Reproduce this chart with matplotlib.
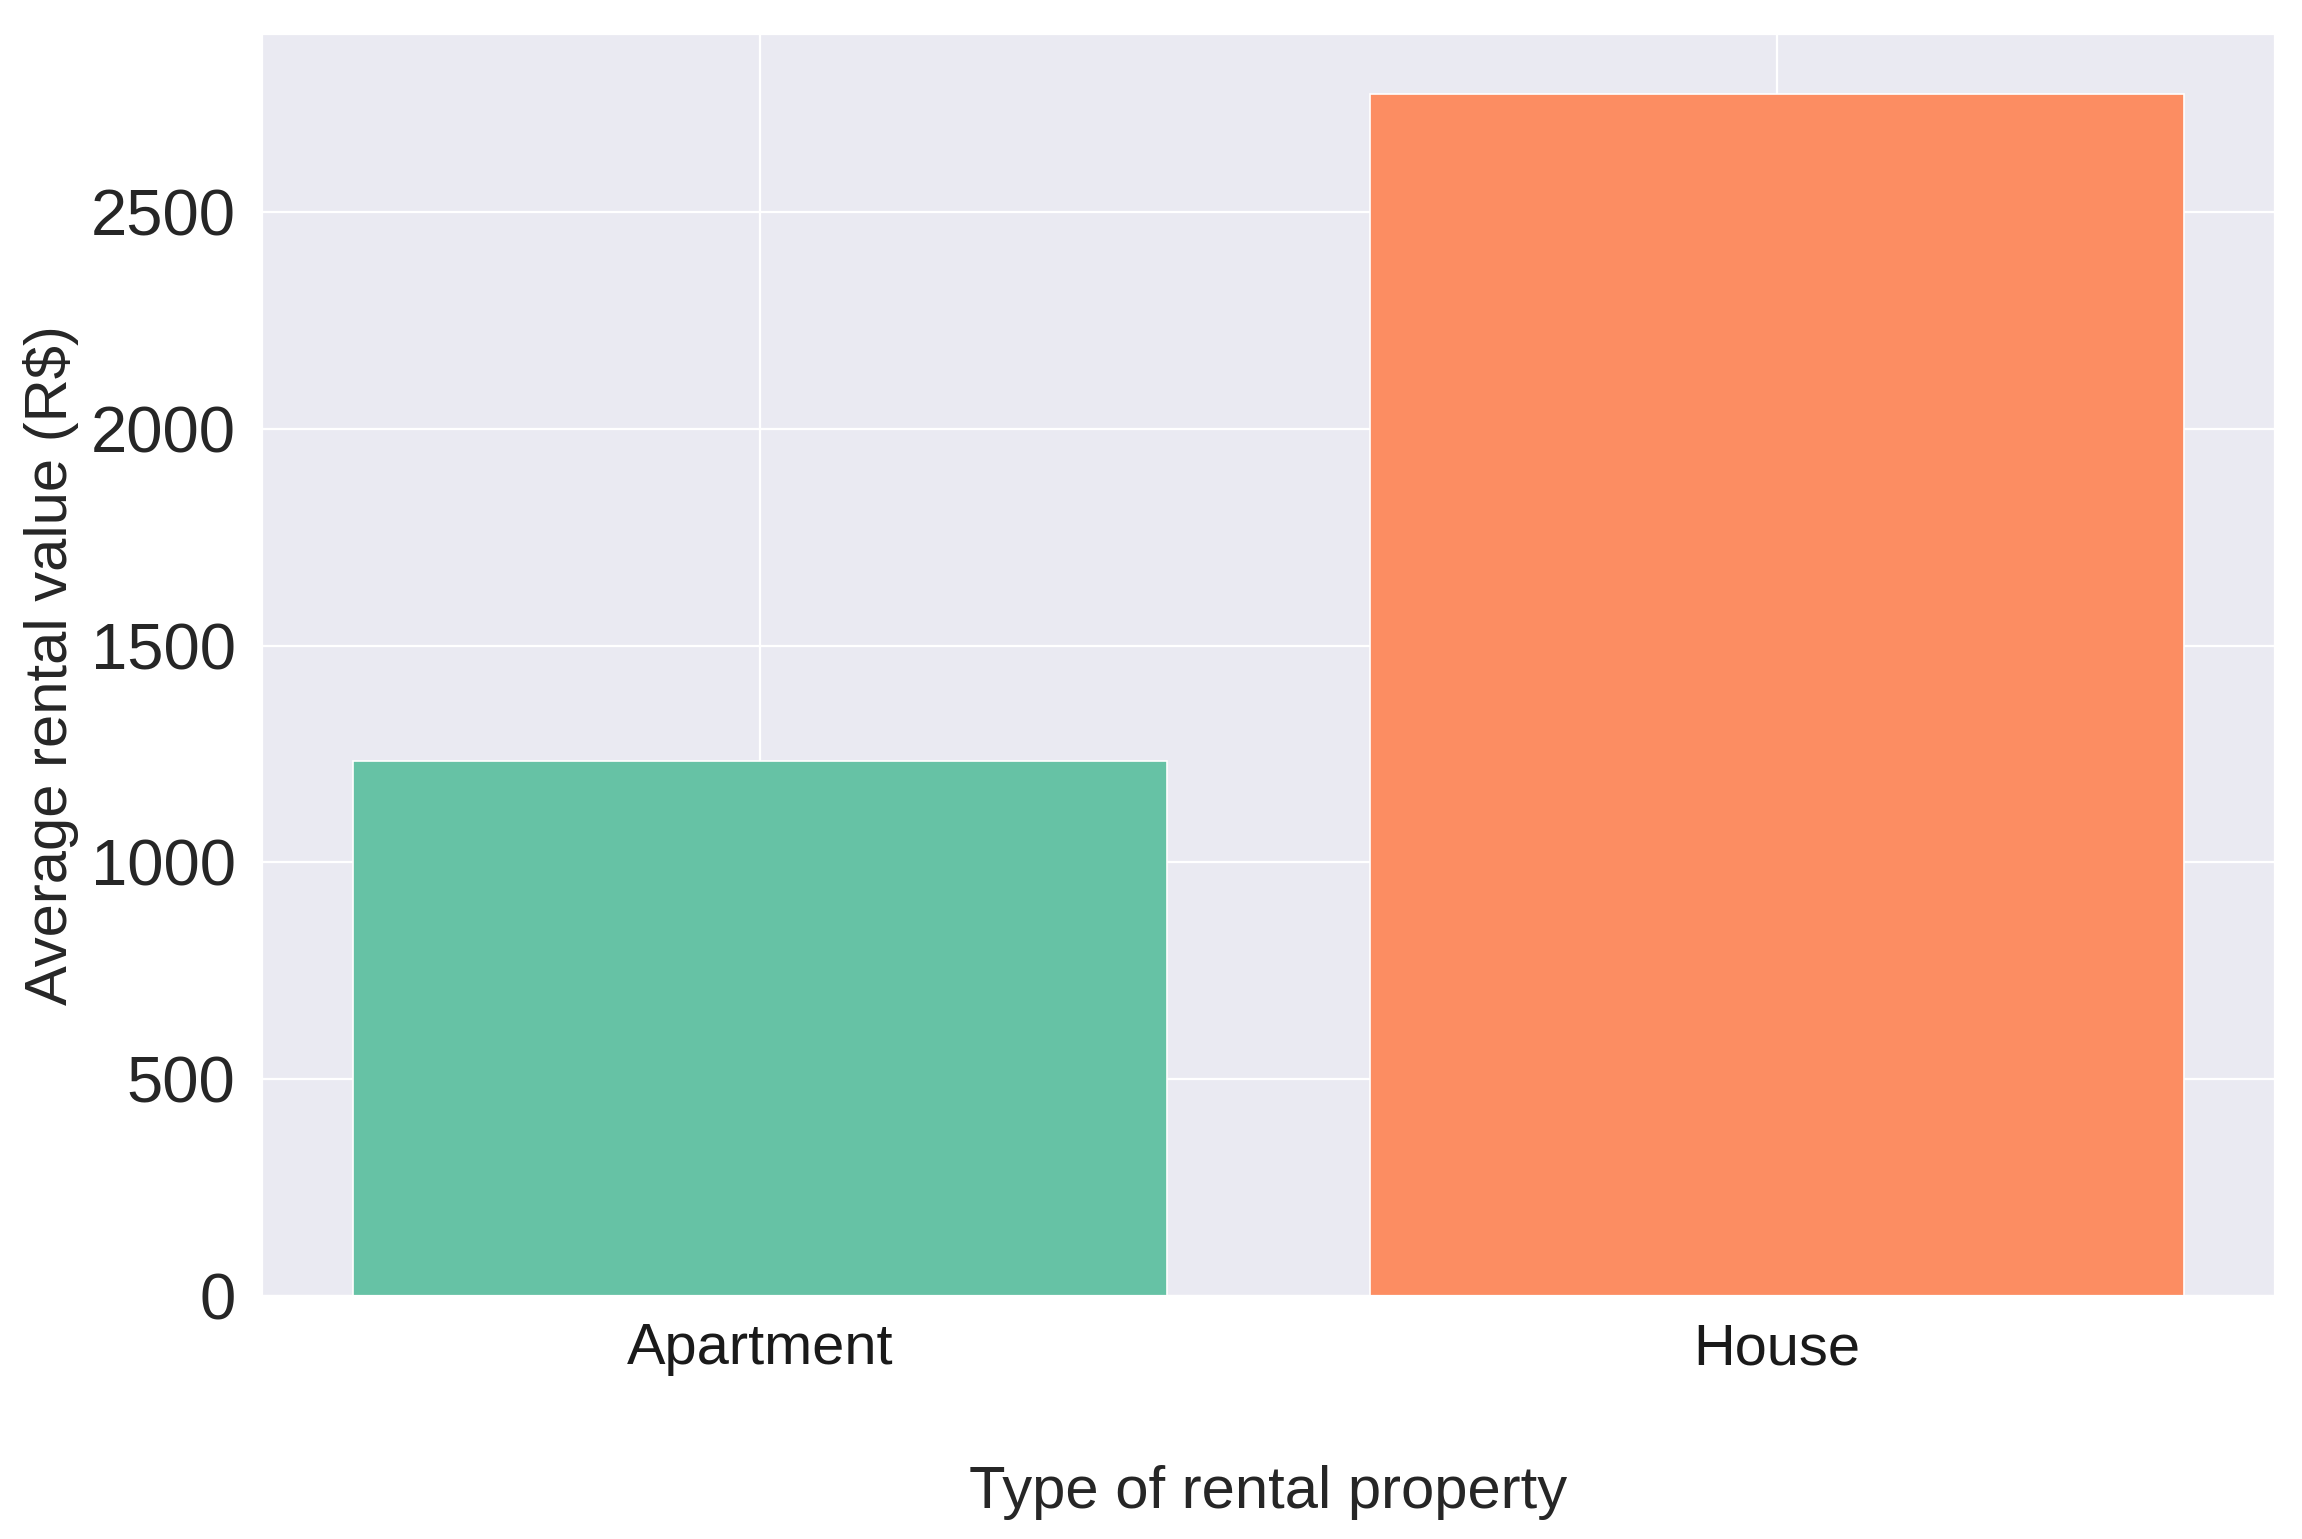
import numpy as np
import matplotlib
matplotlib.use("Agg")
import matplotlib.pyplot as plt
import seaborn as sns

# average rent per property type
property_types = ['Apartment', 'House']
avg_rent = [1234, 2772]
bar_colors = ['#66c2a5', '#fc8d62']

sns.set_style('darkgrid')
plt.rcParams['font.family'] = ['Liberation Sans', 'DejaVu Sans']

fig = plt.figure(figsize=(11.51, 7.695), dpi=200)
ax = fig.add_subplot(111)
fig.subplots_adjust(left=0.1138, right=0.9883, top=0.9779, bottom=0.1579)

x = np.arange(len(property_types))
ax.bar(x, avg_rent, width=0.8, color=bar_colors, edgecolor='white', linewidth=0.6)
ax.set_xticks(x)
ax.set_xticklabels(property_types)

ax.tick_params(axis='y', labelsize=23.5, pad=6, colors='0.15')
ax.tick_params(axis='x', labelsize=20.8, pad=6, colors='0.1')
ax.set_xlabel('Type of rental property', fontsize=21.5, labelpad=32, color='0.15')
ax.set_ylabel('Average rental value (R$)', fontsize=21.5, labelpad=4, color='0.15')

plt.savefig('out.png', dpi=200)
